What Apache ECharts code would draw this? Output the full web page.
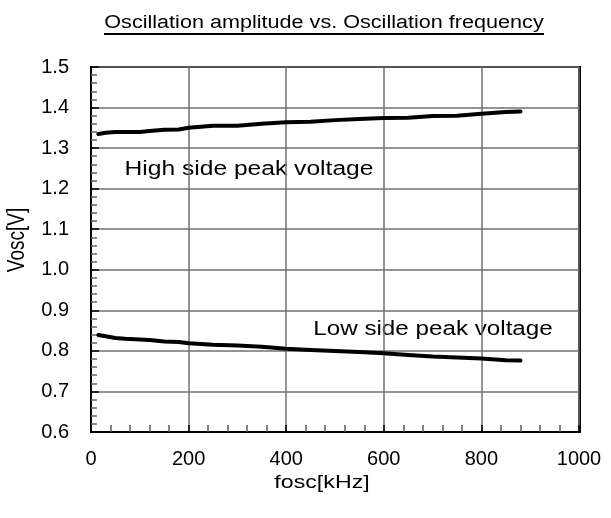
<!DOCTYPE html>
<html>
<head>
<meta charset="utf-8">
<script src="https://cdn.jsdelivr.net/npm/echarts@6/dist/echarts.min.js"></script>
<style>
  html, body { margin: 0; padding: 0; background: #fff; }
  #chart { width: 611px; height: 518px; }
</style>
</head>
<body>
<div id="chart"></div>
<script>
// Oscillation frequency sweep (kHz)
var freqKHz = [15, 30, 50, 70, 100, 120, 150, 180, 200, 250, 300, 350, 400, 450, 500, 550, 600, 650, 700, 750, 800, 850, 880];
// High side peak voltage (V)
var highPeak = [1.335, 1.338, 1.340, 1.340, 1.340, 1.342, 1.345, 1.346, 1.350, 1.355, 1.355, 1.360, 1.364, 1.365, 1.369, 1.372, 1.374, 1.375, 1.379, 1.380, 1.385, 1.389, 1.390];
// Low side peak voltage (V)
var lowPeak = [0.839, 0.836, 0.832, 0.830, 0.828, 0.827, 0.823, 0.822, 0.819, 0.815, 0.813, 0.810, 0.805, 0.802, 0.800, 0.797, 0.794, 0.790, 0.786, 0.784, 0.781, 0.777, 0.776];

var xTicks = [0, 200, 400, 600, 800, 1000];
var yTicks = [0.6, 0.7, 0.8, 0.9, 1.0, 1.1, 1.2, 1.3, 1.4, 1.5];

var titleText = 'Oscillation amplitude vs. Oscillation frequency';
var highLabel = 'High side peak voltage';
var lowLabel = 'Low side peak voltage';
var xName = 'fosc[kHz]';
var yName = 'Vosc[V]';

function pairs(xs, ys) {
  return xs.map(function (x, i) { return [x, ys[i]]; });
}

var FONT = '"Liberation Sans", Arial, sans-serif';
var chart = echarts.init(document.getElementById('chart'), null, { renderer: 'canvas' });

var option = {
  backgroundColor: '#ffffff',
  animation: false,
  grid: {
    left: 91, right: 32, top: 67, bottom: 86,
    show: true, borderColor: '#000', borderWidth: 2, backgroundColor: 'transparent'
  },
  xAxis: {
    type: 'value',
    min: xTicks[0], max: xTicks[xTicks.length - 1], interval: xTicks[1] - xTicks[0],
    axisLine: { show: true, lineStyle: { color: '#000', width: 2 } },
    axisTick: { show: true, inside: true, length: 7, lineStyle: { color: '#000', width: 1.5 } },
    minorTick: { show: true, splitNumber: 5, length: 7, lineStyle: { color: '#555', width: 1.5 } },
    splitLine: { show: true, lineStyle: { color: '#707070', width: 1.5 } },
    axisLabel: {
      show: true, margin: 17, color: '#000', fontFamily: FONT, fontSize: 20,
      formatter: function (v) { return String(v); }
    }
  },
  yAxis: {
    type: 'value',
    min: yTicks[0], max: yTicks[yTicks.length - 1], interval: 0.1,
    axisLine: { show: true, lineStyle: { color: '#000', width: 2 } },
    axisTick: { show: true, inside: true, length: 8, lineStyle: { color: '#000', width: 1.5 } },
    minorTick: { show: true, splitNumber: 5, length: 6, lineStyle: { color: '#666', width: 1.5 } },
    splitLine: { show: true, lineStyle: { color: '#707070', width: 1.5 } },
    axisLabel: {
      show: true, margin: 22, color: '#000', fontFamily: FONT, fontSize: 20,
      formatter: function (v) { return v.toFixed(1); }
    }
  },
  series: [
    {
      name: highLabel, type: 'line', data: pairs(freqKHz, highPeak),
      showSymbol: false, symbol: 'none', smooth: false,
      lineStyle: { color: '#000', width: 4, cap: 'round', join: 'round' }
    },
    {
      name: lowLabel, type: 'line', data: pairs(freqKHz, lowPeak),
      showSymbol: false, symbol: 'none', smooth: false,
      lineStyle: { color: '#000', width: 4, cap: 'round', join: 'round' }
    }
  ],
  graphic: [
    // chart title with underline
    {
      type: 'text', x: 324, y: 23, scaleX: 1.2,
      style: { text: titleText, font: '18px ' + FONT, fill: '#000', textAlign: 'center', textVerticalAlign: 'middle' }
    },
    {
      type: 'line', shape: { x1: 104, y1: 34, x2: 544, y2: 34 },
      style: { stroke: '#000', lineWidth: 2 }
    },
    // right edge of the plot frame is drawn slightly heavier
    {
      type: 'line', shape: { x1: 579.5, y1: 66, x2: 579.5, y2: 433 },
      style: { stroke: '#000', lineWidth: 3 }
    },
    // curve annotations
    {
      type: 'text', x: 249, y: 169, scaleX: 1.23,
      style: { text: highLabel, font: '20px ' + FONT, fill: '#000', textAlign: 'center', textVerticalAlign: 'middle' }
    },
    {
      type: 'text', x: 433, y: 329, scaleX: 1.21,
      style: { text: lowLabel, font: '20px ' + FONT, fill: '#000', textAlign: 'center', textVerticalAlign: 'middle' }
    },
    // axis titles
    {
      type: 'text', x: 322, y: 483, scaleX: 1.22,
      style: { text: xName, font: '19px ' + FONT, fill: '#000', textAlign: 'center', textVerticalAlign: 'middle' }
    },
    {
      type: 'text', x: 18, y: 240, rotation: Math.PI / 2, scaleY: 1.22,
      style: { text: yName, font: '19px ' + FONT, fill: '#000', textAlign: 'center', textVerticalAlign: 'middle' }
    }
  ]
};

chart.setOption(option);
</script>
</body>
</html>
